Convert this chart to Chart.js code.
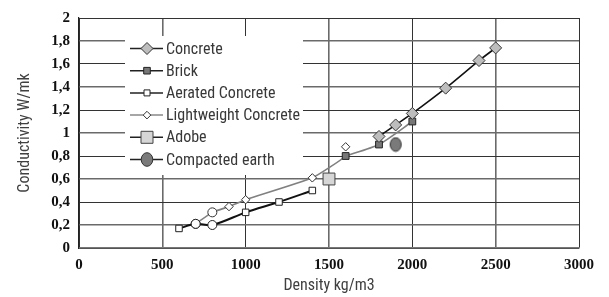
<!DOCTYPE html>
<html>
<head>
<meta charset="utf-8">
<style>
html, body { margin: 0; padding: 0; background: #fff; }
#wrap { position: relative; width: 609px; height: 297px; }
</style>
<script src="https://cdn.jsdelivr.net/npm/chart.js@4/dist/chart.umd.min.js"></script>
</head>
<body>
<div id="wrap"><canvas id="conductivity-chart"></canvas></div>
<script>
// data (density kg/m3, conductivity W/mk)
let concreteDensity = [1800, 1900, 2000, 2200, 2400, 2500]
let concreteCond = [0.97, 1.07, 1.17, 1.39, 1.63, 1.74]

let brickDensity = [1600, 1800, 2000]
let brickCond = [0.8, 0.9, 1.1]

let aeratedDensity = [600, 700, 800, 1000, 1200, 1400]
let aeratedCond = [0.17, 0.21, 0.2, 0.31, 0.4, 0.5]

let lightDensity = [700, 800, 900, 1000, 1400, 1600, 1600]
let lightCond = [0.21, 0.31, 0.36, 0.42, 0.61, 0.8, 0.88]

let adobeDensity = [1500]
let adobeCond = [0.6]

let earthDensity = [1900]
let earthCond = [0.9]

let seriesNames = ['Concrete', 'Brick', 'Aerated Concrete', 'Lightweight Concrete', 'Adobe', 'Compacted earth']

let xTicks = [0, 500, 1000, 1500, 2000, 2500, 3000]

function pts(xs, ys) {
    return xs.map((x, i) => ({x: x, y: ys[i]}))
}

const sansFont = "'Roboto Condensed', Roboto, sans-serif"
const serifFont = "'Liberation Serif', serif"

// oval marker for compacted earth
let oval = document.createElement('canvas')
oval.width = 14
oval.height = 16
let octx = oval.getContext('2d')
octx.beginPath()
octx.ellipse(7, 8, 5.5, 6.8, 0, 0, Math.PI * 2)
octx.fillStyle = '#7a7a7a'
octx.fill()
octx.lineWidth = 1
octx.strokeStyle = '#333'
octx.stroke()

// legend drawn inside the plot area
let legendRows = [
    {line: '#222', style: 'diamond', r: 6, fill: '#bdbdbd', stroke: '#333'},
    {line: '#222', style: 'square', r: 3.3, fill: '#777', stroke: '#222'},
    {line: '#222', style: 'square', r: 3, fill: '#fff', stroke: '#222'},
    {line: '#888', style: 'diamond', r: 3.8, fill: '#fff', stroke: '#333'},
    {line: '#222', style: 'square', r: 6, fill: '#d6d6d6', stroke: '#444'},
    {line: '#222', style: 'oval', r: 6.8, fill: '#7a7a7a', stroke: '#333'}
]

function drawMarker(ctx, row, x, y) {
    ctx.beginPath()
    if (row.style === 'diamond') {
        ctx.moveTo(x, y - row.r)
        ctx.lineTo(x + row.r, y)
        ctx.lineTo(x, y + row.r)
        ctx.lineTo(x - row.r, y)
        ctx.closePath()
    } else if (row.style === 'square') {
        ctx.rect(x - row.r, y - row.r, row.r * 2, row.r * 2)
    } else {
        ctx.ellipse(x, y, row.r * 0.85, row.r, 0, 0, Math.PI * 2)
    }
    ctx.fillStyle = row.fill
    ctx.fill()
    ctx.lineWidth = 1
    ctx.strokeStyle = row.stroke
    ctx.stroke()
}

let insideLegend = {
    id: 'insideLegend',
    beforeDatasetsDraw(chart) {
        let ctx = chart.ctx
        ctx.save()
        ctx.fillStyle = '#fff'
        ctx.fillRect(125, 36, 178, 139)
        ctx.font = '16px ' + sansFont
        ctx.textBaseline = 'middle'
        seriesNames.forEach(function(name, i) {
            let row = legendRows[i]
            let y = 48.5 + i * 22.2
            ctx.beginPath()
            ctx.moveTo(130, y)
            ctx.lineTo(163, y)
            ctx.lineWidth = 1.5
            ctx.strokeStyle = row.line
            ctx.stroke()
            drawMarker(ctx, row, 147, y)
            ctx.fillStyle = '#383838'
            ctx.fillText(name, 166, y + 1)
        })
        ctx.restore()
    }
}

let gridColor = ctx => ctx.index % 2 === 0 ? '#333' : '#6a6a6a'
let gridWidth = ctx => ctx.index % 2 === 0 ? 1 : 1.6

let canvas = document.querySelector('#conductivity-chart')
let context = canvas.getContext('2d')

let chart = new Chart(context, {
    type: 'line',
    data: {
        datasets: [
            {
                label: seriesNames[0],
                data: pts(concreteDensity, concreteCond),
                borderColor: '#111',
                borderWidth: 1.6,
                pointStyle: 'rectRot',
                pointRadius: 6,
                pointBackgroundColor: '#bdbdbd',
                pointBorderColor: '#333',
                pointBorderWidth: 1,
                tension: 0.2
            },
            {
                label: seriesNames[1],
                data: pts(brickDensity, brickCond),
                borderColor: '#808080',
                borderWidth: 1.6,
                pointStyle: 'rect',
                pointRadius: 4.8,
                pointBackgroundColor: '#777',
                pointBorderColor: '#222',
                pointBorderWidth: 1,
                tension: 0.2
            },
            {
                label: seriesNames[2],
                data: pts(aeratedDensity, aeratedCond),
                borderColor: '#111',
                borderWidth: 2,
                pointStyle: ['rect', 'circle', 'circle', 'rect', 'rect', 'rect'],
                pointRadius: [4.6, 4.5, 4.5, 4.6, 4.6, 4.6],
                pointBackgroundColor: '#fff',
                pointBorderColor: '#222',
                pointBorderWidth: 1,
                tension: 0.3
            },
            {
                label: seriesNames[3],
                data: pts(lightDensity, lightCond),
                borderColor: '#808080',
                borderWidth: 1.6,
                pointStyle: ['circle', 'circle', 'rectRot', 'rectRot', 'rectRot', 'rectRot', 'rectRot'],
                pointRadius: [4.5, 4.5, 4.2, 4.2, 4.2, 0, 4.2],
                pointBackgroundColor: '#fff',
                pointBorderColor: '#333',
                pointBorderWidth: 1,
                tension: 0.15,
                segment: {
                    borderColor: ctx => ctx.p1DataIndex === 6 ? 'rgba(0,0,0,0)' : undefined
                }
            },
            {
                label: seriesNames[4],
                data: pts(adobeDensity, adobeCond),
                showLine: false,
                pointStyle: 'rect',
                pointRadius: 8.4,
                pointBackgroundColor: '#d6d6d6',
                pointBorderColor: '#444',
                pointBorderWidth: 1
            },
            {
                label: seriesNames[5],
                data: pts(earthDensity, earthCond),
                showLine: false,
                pointStyle: oval,
                pointRadius: 7
            }
        ]
    },
    options: {
        responsive: true,
        maintainAspectRatio: false,
        animation: false,
        layout: {padding: {left: 0, right: 30, top: 18, bottom: 0}},
        plugins: {
            legend: {display: false},
            tooltip: {enabled: false}
        },
        scales: {
            x: {
                type: 'linear',
                min: 0,
                max: 3000,
                afterBuildTicks: scale => { scale.ticks = xTicks.map(v => ({value: v})) },
                afterFit: scale => { scale.height = 49 },
                grid: {drawTicks: false, color: gridColor, lineWidth: gridWidth},
                border: {color: '#777', width: 1.5},
                ticks: {
                    padding: 8,
                    color: '#111',
                    font: {family: serifFont, size: 15, weight: 'bold'},
                    callback: v => String(v)
                },
                title: {
                    display: true,
                    text: 'Density kg/m3',
                    color: '#404040',
                    padding: {top: 0, bottom: 1},
                    font: {family: sansFont, size: 16}
                }
            },
            y: {
                min: 0,
                max: 2,
                afterFit: scale => { scale.width = 79 },
                grid: {drawTicks: false, color: gridColor, lineWidth: gridWidth},
                border: {color: '#222', width: 1.2},
                ticks: {
                    stepSize: 0.2,
                    padding: 9,
                    color: '#111',
                    font: {family: serifFont, size: 15, weight: 'bold'},
                    callback: v => {
                        let r = Math.round(v * 10) / 10
                        return Number.isInteger(r) ? String(r) : String(r).replace('.', ',')
                    }
                },
                title: {
                    display: true,
                    text: 'Conductivity W/mk',
                    color: '#404040',
                    padding: {top: 15, bottom: 0},
                    font: {family: sansFont, size: 16}
                }
            }
        }
    },
    plugins: [insideLegend]
})

// redraw once the local fonts are ready
Promise.all([
    document.fonts.load('bold 15px "Liberation Serif"'),
    document.fonts.load('16px "Roboto Condensed"')
]).then(() => chart.update())
</script>
</body>
</html>
